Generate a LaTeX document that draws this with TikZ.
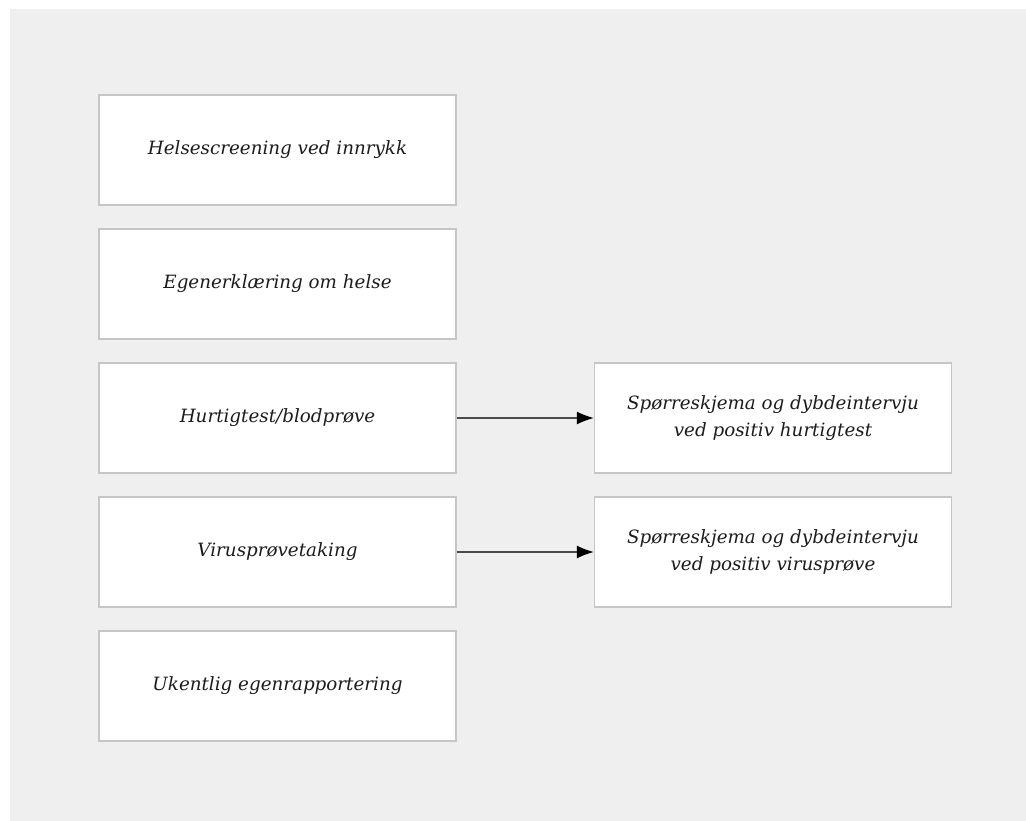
\documentclass[tikz,border=0pt]{standalone}
\usepackage{fontspec}
\setmainfont{DejaVu Serif}
\usetikzlibrary{arrows.meta}
\definecolor{bggray}{HTML}{EFEFEF}
\definecolor{boxline}{HTML}{C6C6C6}
\definecolor{txtgray}{HTML}{1C1C1C}
\definecolor{arrowgray}{HTML}{4A4A4A}

\begin{document}
\begin{tikzpicture}[x=1pt,y=-1pt,
  box/.style={draw=boxline,line width=1.4pt,fill=white,minimum width=357pt,minimum height=110pt,
    inner sep=0pt,align=center,text=txtgray,font=\fontsize{18.3}{27}\selectfont\itshape}]
  \useasboundingbox (0,0) rectangle (1026,821);
  \fill[bggray] (10,9) rectangle (1026,821);

  \node[box] (helse) at (277.5,150) {Helsescreening ved innrykk};
  \node[box] (egen) at (277.5,284) {Egenerklæring om helse};
  \node[box] (hurtig) at (277.5,418) {Hurtigtest/blodprøve};
  \node[box] (virus) at (277.5,552) {Virusprøvetaking};
  \node[box] (ukentlig) at (277.5,686) {Ukentlig egenrapportering};

  \node[box] (skjemahurtig) at (773,418) {Spørreskjema og dybdeintervju\\ved positiv hurtigtest};
  \node[box] (skjemavirus) at (773,552) {Spørreskjema og dybdeintervju\\ved positiv virusprøve};

  \draw[arrowgray,line width=1.2pt,-{Latex[length=17pt,width=13pt,color=black]}] (hurtig) -- (skjemahurtig);
  \draw[arrowgray,line width=1.2pt,-{Latex[length=17pt,width=13pt,color=black]}] (virus) -- (skjemavirus);
\end{tikzpicture}
\end{document}
